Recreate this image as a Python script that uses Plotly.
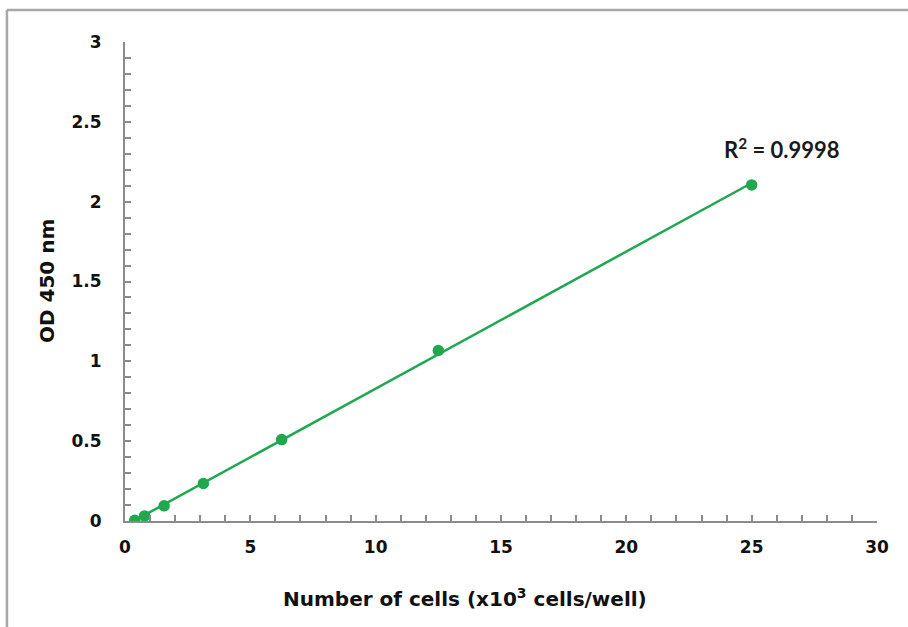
import numpy as np
import plotly.graph_objects as go

# Data
cells = [0.39, 0.78, 1.56, 3.125, 6.25, 12.5, 25]
od450 = [0.005, 0.032, 0.095, 0.235, 0.51, 1.068, 2.105]
x_ticks = [0, 5, 10, 15, 20, 25, 30]
y_ticks = [0, 0.5, 1, 1.5, 2, 2.5, 3]
y_tick_labels = ["0", "0.5", "1", "1.5", "2", "2.5", "3"]
r2_text = "R<sup>2</sup> = 0.9998"

green = "#20a84f"
axis_gray = "#8c8c8c"

slope, intercept = np.polyfit(cells, od450, 1)
fit_x = [min(cells), max(cells)]
fit_y = [slope * v + intercept for v in fit_x]

fig = go.Figure()
fig.add_trace(go.Scatter(x=fit_x, y=fit_y, mode="lines",
                         line=dict(color=green, width=2.5), showlegend=False, hoverinfo="skip"))
fig.add_trace(go.Scatter(x=cells, y=od450, mode="markers",
                         marker=dict(color=green, size=11.5), showlegend=False))

fig.add_annotation(x=26.2, y=2.335, xref="x", yref="y", text=r2_text, showarrow=False,
                   xanchor="center", yanchor="middle",
                   font=dict(family="Lato", size=22, color="#1a1a1a", weight="bold"))

fig.add_annotation(x=-0.1037, y=0.501, xref="paper", yref="paper", text="<b>OD 450 nm</b>",
                   textangle=-90, showarrow=False, xanchor="center", yanchor="middle",
                   font=dict(family="DejaVu Sans", size=20, color="#111111"))
fig.add_annotation(x=0.452, y=-0.1608, xref="paper", yref="paper",
                   text="<b>Number of cells (x10<sup>3</sup> cells/well)</b>", showarrow=False,
                   xanchor="center", yanchor="middle",
                   font=dict(family="DejaVu Sans", size=20, color="#111111"))

# outer frame (top and left border lines)
fig.add_shape(type="line", xref="paper", yref="paper", x0=-0.157, x1=1.05, y0=1.0668, y1=1.0668,
              line=dict(color="#a8a8a8", width=2.5))
fig.add_shape(type="line", xref="paper", yref="paper", x0=-0.157, x1=-0.157, y0=1.0668, y1=-0.25,
              line=dict(color="#a8a8a8", width=2.5))

tick_font = dict(family="DejaVu Sans", size=17, color="#111111", weight="bold")

fig.update_layout(
    width=908, height=627,
    margin=dict(l=125, r=31, t=42, b=106),
    paper_bgcolor="white", plot_bgcolor="white",
    xaxis=dict(range=[0, 30], tickvals=x_ticks, ticks="inside", ticklen=6, tickwidth=1.5,
               tickcolor=axis_gray, showline=True, linecolor=axis_gray, linewidth=2,
               showgrid=False, zeroline=False, tickfont=tick_font, ticklabelstandoff=10,
               minor=dict(dtick=1, ticks="inside", ticklen=6, tickcolor=axis_gray, tickwidth=1.5,
                          showgrid=False)),
    yaxis=dict(range=[0, 3], tickvals=y_ticks, ticktext=y_tick_labels, ticks="inside",
               ticklen=6, tickwidth=1.5, tickcolor=axis_gray, showline=True, linecolor=axis_gray,
               linewidth=2, showgrid=False, zeroline=False, tickfont=tick_font,
               ticklabelstandoff=18,
               minor=dict(dtick=0.1, ticks="inside", ticklen=6, tickcolor=axis_gray, tickwidth=1.5,
                          showgrid=False)),
)

fig.write_html("out.html", config={"displayModeBar": False},
               post_script="document.body.style.margin='0';")
